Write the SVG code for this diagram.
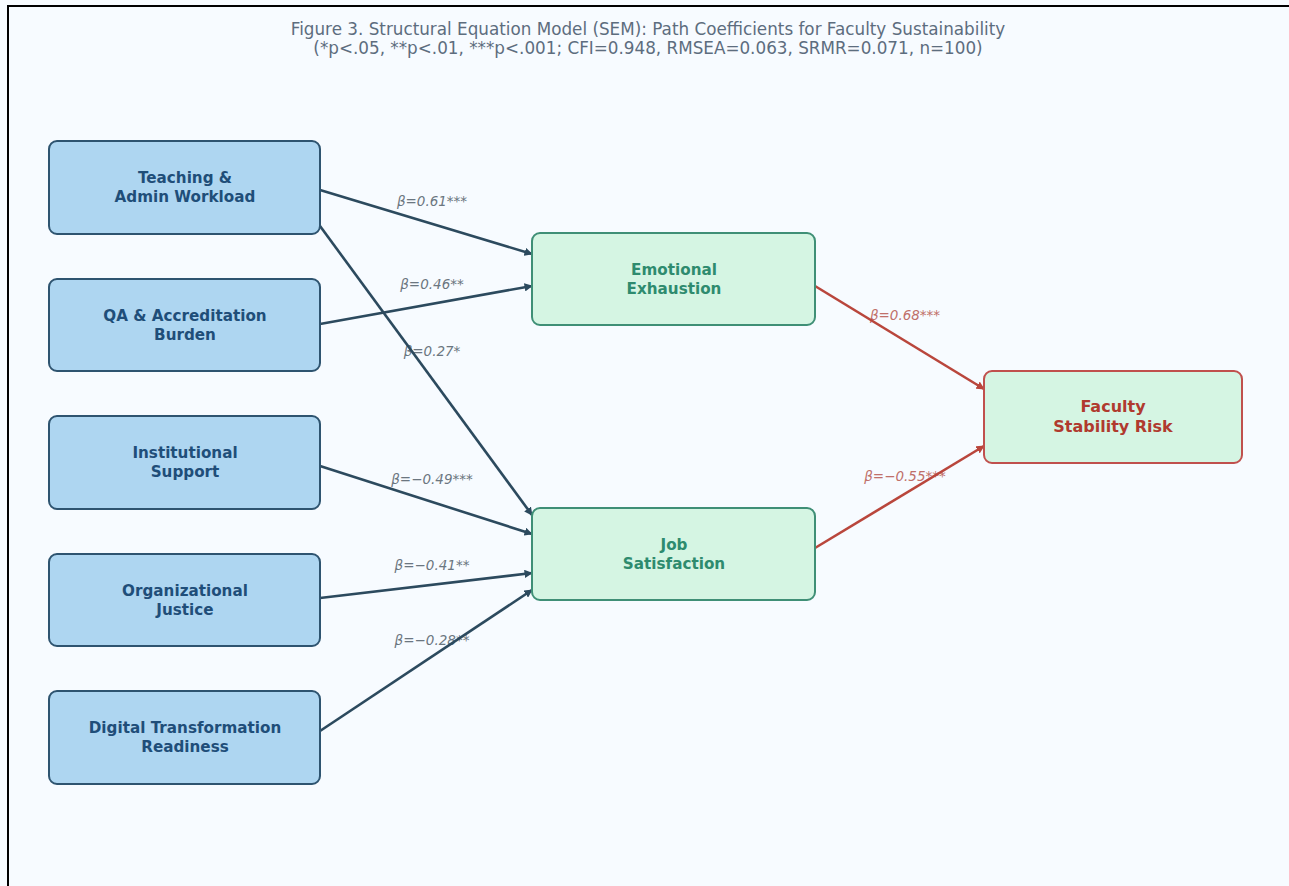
<svg xmlns="http://www.w3.org/2000/svg" width="1289" height="886" viewBox="0 0 1289 886">
<defs>
<style>
.bg{fill:#f7fbff}
.frame{fill:none;stroke:#000;stroke-width:2}
.title{font-family:"DejaVu Sans",sans-serif;font-size:16.8px;fill:#5d6d7e;text-anchor:middle}
.ext rect{fill:#aed6f1;stroke:#2e5470;stroke-width:2}
.ext text{font-family:"DejaVu Sans",sans-serif;font-weight:bold;font-size:15.2px;fill:#1f4e79;text-anchor:middle}
.med rect{fill:#d5f5e3;stroke:#3f8f76;stroke-width:2}
.med text{font-family:"DejaVu Sans",sans-serif;font-weight:bold;font-size:15.2px;fill:#2e8b6e;text-anchor:middle}
.out rect{fill:#d5f5e3;stroke:#c0504d;stroke-width:2}
.out text{font-family:"DejaVu Sans",sans-serif;font-weight:bold;font-size:16px;fill:#b03a2e;text-anchor:middle}
.lbl{font-family:"DejaVu Sans",sans-serif;font-style:italic;font-size:13.5px;fill:#6b7680;text-anchor:middle}
.lblr{font-family:"DejaVu Sans",sans-serif;font-style:italic;font-size:13.5px;fill:#c0706a;text-anchor:middle}
.c{fill:none;stroke:#2c4a5e;stroke-width:2.6;marker-end:url(#ah)}
.cr{fill:none;stroke:#b9463c;stroke-width:2.6;marker-end:url(#ahr)}
</style>
<marker id="ah" viewBox="0 0 10 10" refX="9" refY="5" markerWidth="3.2" markerHeight="3.2" orient="auto" markerUnits="strokeWidth">
<path d="M0,0 L10,5 L0,10 z" fill="#2c4a5e"/>
</marker>
<marker id="ahr" viewBox="0 0 10 10" refX="9" refY="5" markerWidth="3.2" markerHeight="3.2" orient="auto" markerUnits="strokeWidth">
<path d="M0,0 L10,5 L0,10 z" fill="#b9463c"/>
</marker>
</defs>
<rect class="bg" x="0" y="0" width="1289" height="886"/>
<path class="frame" d="M8,886 L8,6 L1289,6"/>
<text class="title" x="648" y="35">Figure 3. Structural Equation Model (SEM): Path Coefficients for Faculty Sustainability</text>
<text class="title" x="648" y="54">(*p&lt;.05, **p&lt;.01, ***p&lt;.001; CFI=0.948, RMSEA=0.063, SRMR=0.071, n=100)</text>

<g id="labels">
<text class="lbl" x="432" y="206">β=0.61***</text>
<text class="lbl" x="432" y="289">β=0.46**</text>
<text class="lbl" x="432" y="356">β=0.27*</text>
<text class="lbl" x="432" y="484">β=−0.49***</text>
<text class="lbl" x="432" y="570">β=−0.41**</text>
<text class="lbl" x="432" y="645">β=−0.28**</text>
<text class="lblr" x="905" y="320">β=0.68***</text>
<text class="lblr" x="905" y="481">β=−0.55***</text>
</g>

<g id="connectors">
<line class="c" x1="320" y1="190" x2="532" y2="254"/>
<line class="c" x1="320" y1="226" x2="532" y2="515"/>
<line class="c" x1="320" y1="324" x2="532" y2="286"/>
<line class="c" x1="320" y1="466" x2="532" y2="534"/>
<line class="c" x1="320" y1="598" x2="532" y2="573"/>
<line class="c" x1="320" y1="731" x2="532" y2="590"/>
<line class="cr" x1="815" y1="286" x2="984" y2="389"/>
<line class="cr" x1="815" y1="548" x2="984" y2="446"/>
</g>

<g id="n-teaching" class="ext">
<rect x="49" y="141" width="271" height="93" rx="8"/>
<text x="185" y="183">Teaching &amp;</text>
<text x="185" y="202">Admin Workload</text>
</g>
<g id="n-qa" class="ext">
<rect x="49" y="279" width="271" height="92" rx="8"/>
<text x="185" y="321">QA &amp; Accreditation</text>
<text x="185" y="340">Burden</text>
</g>
<g id="n-support" class="ext">
<rect x="49" y="416" width="271" height="93" rx="8"/>
<text x="185" y="458">Institutional</text>
<text x="185" y="477">Support</text>
</g>
<g id="n-justice" class="ext">
<rect x="49" y="554" width="271" height="92" rx="8"/>
<text x="185" y="596">Organizational</text>
<text x="185" y="615">Justice</text>
</g>
<g id="n-digital" class="ext">
<rect x="49" y="691" width="271" height="93" rx="8"/>
<text x="185" y="733">Digital Transformation</text>
<text x="185" y="752">Readiness</text>
</g>
<g id="n-exhaustion" class="med">
<rect x="532" y="233" width="283" height="92" rx="8"/>
<text x="674" y="275">Emotional</text>
<text x="674" y="294">Exhaustion</text>
</g>
<g id="n-satisfaction" class="med">
<rect x="532" y="508" width="283" height="92" rx="8"/>
<text x="674" y="550">Job</text>
<text x="674" y="569">Satisfaction</text>
</g>
<g id="n-risk" class="out">
<rect x="984" y="371" width="258" height="92" rx="8"/>
<text x="1113" y="412">Faculty</text>
<text x="1113" y="432">Stability Risk</text>
</g>
</svg>
